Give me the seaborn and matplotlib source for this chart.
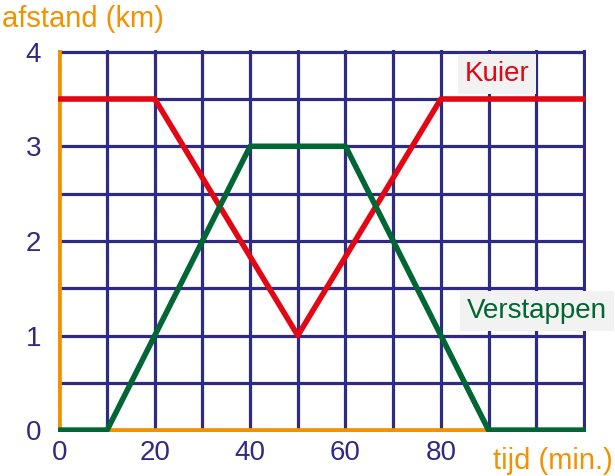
import matplotlib
matplotlib.use("Agg")
import matplotlib.pyplot as plt
import seaborn as sns
import pandas as pd

# gegevens
tijd_kuier = [0, 20, 50, 80, 110]
afstand_kuier = [3.5, 3.5, 1, 3.5, 3.5]
tijd_verstappen = [0, 10, 40, 60, 90, 110]
afstand_verstappen = [0, 0, 3, 3, 0, 0]
x_ticks = [0, 20, 40, 60, 80]
y_ticks = [0, 1, 2, 3, 4]

ORANJE = '#f39200'
BLAUW = '#2e2a85'
ROOD = '#e30613'
GROEN = '#006633'

sns.set_style('white')
plt.rcParams['font.family'] = ['Liberation Sans', 'DejaVu Sans']

df_kuier = pd.DataFrame({'tijd': tijd_kuier, 'afstand': afstand_kuier})
df_verst = pd.DataFrame({'tijd': tijd_verstappen, 'afstand': afstand_verstappen})

fig = plt.figure(figsize=(6.15, 4.76), dpi=100)
ax = fig.add_axes([0.0943, 0.0924, 0.859, 0.803])

# raster
for x in range(10, 111, 10):
    ax.axvline(x, color=BLAUW, lw=2.3, zorder=1)
for y in [0.5, 1, 1.5, 2, 2.5, 3, 3.5, 4]:
    ax.axhline(y, color=BLAUW, lw=2.3, zorder=1)

# assen in oranje
ax.axvline(0, color=ORANJE, lw=3.4, zorder=2)
ax.axhline(0, color=ORANJE, lw=3.4, zorder=2)

sns.lineplot(data=df_kuier, x='tijd', y='afstand', ax=ax, color=ROOD, lw=4, zorder=3)
sns.lineplot(data=df_verst, x='tijd', y='afstand', ax=ax, color=GROEN, lw=4, zorder=4)

ax.set_xlim(-0.3, 110.5)
ax.set_ylim(-0.02, 4.02)
ax.set_xticks(x_ticks)
ax.set_yticks(y_ticks)
ax.tick_params(colors=BLAUW, labelsize=20, length=0)
ax.tick_params(axis='y', pad=12)
ax.tick_params(axis='x', pad=6)
for s in ax.spines.values():
    s.set_visible(False)
ax.set_xlabel('')
ax.set_ylabel('')

fig.text(0.003, 0.99, 'afstand (km)', color=ORANJE, fontsize=21, ha='left', va='top')
fig.text(0.997, 0.003, 'tijd (min.)', color=ORANJE, fontsize=21, ha='right', va='bottom')

box = dict(boxstyle='square,pad=0.25', facecolor='#f2f2f2', edgecolor='none')
ax.text(85, 3.76, 'Kuier', color=ROOD, fontsize=20, ha='left', va='center', bbox=box, zorder=5)
ax.text(85.5, 1.26, 'Verstappen', color=GROEN, fontsize=20, ha='left', va='center', bbox=box, zorder=5)

fig.savefig('out.png', dpi=100)
